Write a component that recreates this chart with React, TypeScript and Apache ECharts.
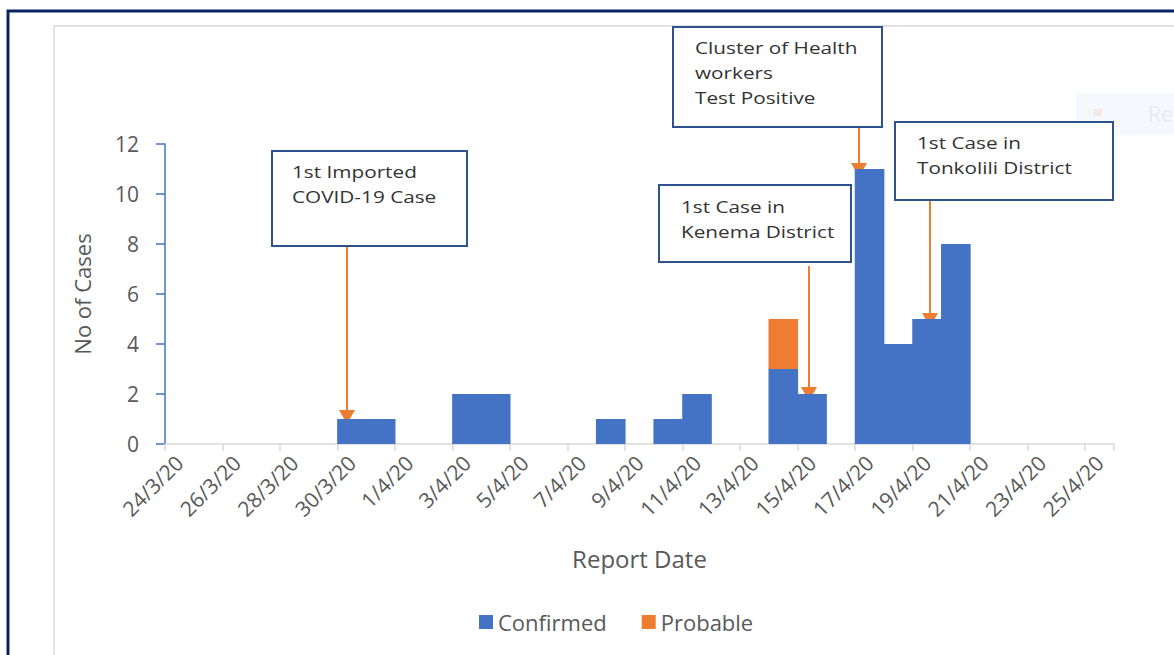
import React, { useEffect, useRef } from "react";
import * as echarts from "echarts";

const reportDates = [
  "24/3/20", "25/3/20", "26/3/20", "27/3/20", "28/3/20", "29/3/20", "30/3/20", "31/3/20",
  "1/4/20", "2/4/20", "3/4/20", "4/4/20", "5/4/20", "6/4/20", "7/4/20", "8/4/20",
  "9/4/20", "10/4/20", "11/4/20", "12/4/20", "13/4/20", "14/4/20", "15/4/20", "16/4/20",
  "17/4/20", "18/4/20", "19/4/20", "20/4/20", "21/4/20", "22/4/20", "23/4/20", "24/4/20",
  "25/4/20",
];

const confirmedCases = [
  0, 0, 0, 0, 0, 0, 1, 1,
  0, 0, 2, 2, 0, 0, 0, 1,
  0, 1, 2, 0, 0, 3, 2, 0,
  11, 4, 5, 8, 0, 0, 0, 0,
  0,
];

const probableCases = [
  0, 0, 0, 0, 0, 0, 0, 0,
  0, 0, 0, 0, 0, 0, 0, 0,
  0, 0, 0, 0, 0, 2, 0, 0,
  0, 0, 0, 0, 0, 0, 0, 0,
  0,
];

const yTicks = { min: 0, max: 12, interval: 2 };

const BLUE = "#4472C4";
const ORANGE = "#ED7D31";
const BOX_BORDER = "#2F528F";
const TEXT = "#595959";
const BOX_TEXT = "#333333";
const FONT = "'Open Sans', 'Noto Sans', sans-serif";

// zero-day counts are drawn as empty slots
const asBars = (arr: number[]) => arr.map((v) => (v === 0 ? null : v));

function box(x: number, y: number, w: number, h: number, lines: string[], tx: number, ty: number) {
  const children: any[] = [
    {
      type: "rect",
      shape: { x, y, width: w, height: h },
      style: { fill: "#ffffff", stroke: BOX_BORDER, lineWidth: 2 },
    },
  ];
  lines.forEach((t, i) => {
    children.push({
      type: "text",
      x: tx,
      y: ty + i * 25,
      scaleX: 1.22,
      style: {
        text: t,
        fill: BOX_TEXT,
        font: `17px ${FONT}`,
        textAlign: "left",
        textVerticalAlign: "middle",
      },
    });
  });
  return { type: "group", children };
}

function arrow(x: number, y1: number, y2: number) {
  return {
    type: "group",
    children: [
      {
        type: "line",
        shape: { x1: x, y1, x2: x, y2: y2 - 10 },
        style: { stroke: ORANGE, lineWidth: 2 },
      },
      {
        type: "polygon",
        shape: { points: [[x - 8, y2 - 14], [x + 8, y2 - 14], [x, y2]] },
        style: { fill: ORANGE },
      },
    ],
  };
}

export default function App() {
  const ref = useRef<HTMLDivElement>(null);

  useEffect(() => {
    if (!ref.current) return;
    const chart = echarts.init(ref.current, undefined, { renderer: "svg" });
    chart.setOption({
      animation: false,
      backgroundColor: "#ffffff",
      grid: {
        left: 165,
        right: 60,
        top: 144,
        bottom: 211,
        outerBoundsMode: "none",
      },
      legend: {
        left: 474,
        top: 606,
        itemWidth: 14,
        itemHeight: 14,
        itemGap: 35,
        icon: "rect",
        textStyle: { color: TEXT, fontSize: 22, fontFamily: FONT },
        data: ["Confirmed", "Probable"],
      },
      xAxis: {
        type: "category",
        data: reportDates,
        name: "Report Date",
        nameLocation: "middle",
        nameGap: 102,
        nameTextStyle: { color: TEXT, fontSize: 24, fontFamily: FONT },
        axisLine: { lineStyle: { color: "#d9d9d9", width: 1.5 } },
        axisTick: { show: true, interval: 1, length: 7, lineStyle: { color: "#d9d9d9", width: 1.5 } },
        axisLabel: {
          interval: 1,
          rotate: 45,
          margin: 15,
          color: TEXT,
          fontSize: 21,
          fontFamily: FONT,
        },
        splitLine: { show: false },
      },
      yAxis: {
        type: "value",
        min: yTicks.min,
        max: yTicks.max,
        interval: yTicks.interval,
        name: "No of Cases",
        nameLocation: "middle",
        nameGap: 72,
        nameTextStyle: { color: TEXT, fontSize: 22, fontFamily: FONT },
        axisLine: { show: true, lineStyle: { color: BLUE, width: 1.5 } },
        axisTick: { show: true, length: 9, lineStyle: { color: BLUE, width: 1.5 } },
        axisLabel: { margin: 26, color: TEXT, fontSize: 21, fontFamily: FONT },
        splitLine: { show: false },
      },
      series: [
        {
          name: "Confirmed",
          type: "bar",
          stack: "cases",
          data: asBars(confirmedCases),
          barWidth: "103%",
          itemStyle: { color: BLUE },
        },
        {
          name: "Probable",
          type: "bar",
          stack: "cases",
          data: asBars(probableCases),
          barWidth: "103%",
          itemStyle: { color: ORANGE },
        },
      ],
      graphic: [
        {
          type: "rect",
          z: -10,
          silent: true,
          shape: { x: 8, y: 11, width: 1300, height: 800 },
          style: { fill: "none", stroke: "#0b2461", lineWidth: 3 },
        },
        {
          type: "rect",
          z: -9,
          silent: true,
          shape: { x: 54, y: 26, width: 1300, height: 800 },
          style: { fill: "none", stroke: "#d9d9d9", lineWidth: 1.5 },
        },
        {
          type: "group",
          z: -8,
          children: [
            { type: "rect", shape: { x: 1076, y: 93, width: 100, height: 42 }, style: { fill: "#f5f8fd" } },
            { type: "rect", shape: { x: 1093, y: 109, width: 9, height: 7 }, style: { fill: "#f6ebe3" } },
            { type: "text", x: 1148, y: 114, style: { text: "Re", fill: "#e9ebef", font: `21px ${FONT}`, textVerticalAlign: "middle" } },
          ],
        },
        box(272, 151, 195, 95, ["1st Imported", "COVID-19 Case"], 292, 172),
        arrow(347, 247, 424),
        box(673, 27, 209, 100, ["Cluster of Health", "workers", "Test Positive"], 695, 48),
        arrow(859, 128, 177),
        box(659, 185, 192, 77, ["1st Case in", "Kenema District"], 681, 207),
        arrow(809, 266, 401),
        box(895, 122, 218, 78, ["1st Case in", "Tonkolili District"], 917, 143),
        arrow(930, 201, 327),
      ],
    });
    return () => chart.dispose();
  }, []);

  return (
    <div
      ref={ref}
      style={{ position: "fixed", left: 0, top: 0, width: 1174, height: 655 }}
    />
  );
}
